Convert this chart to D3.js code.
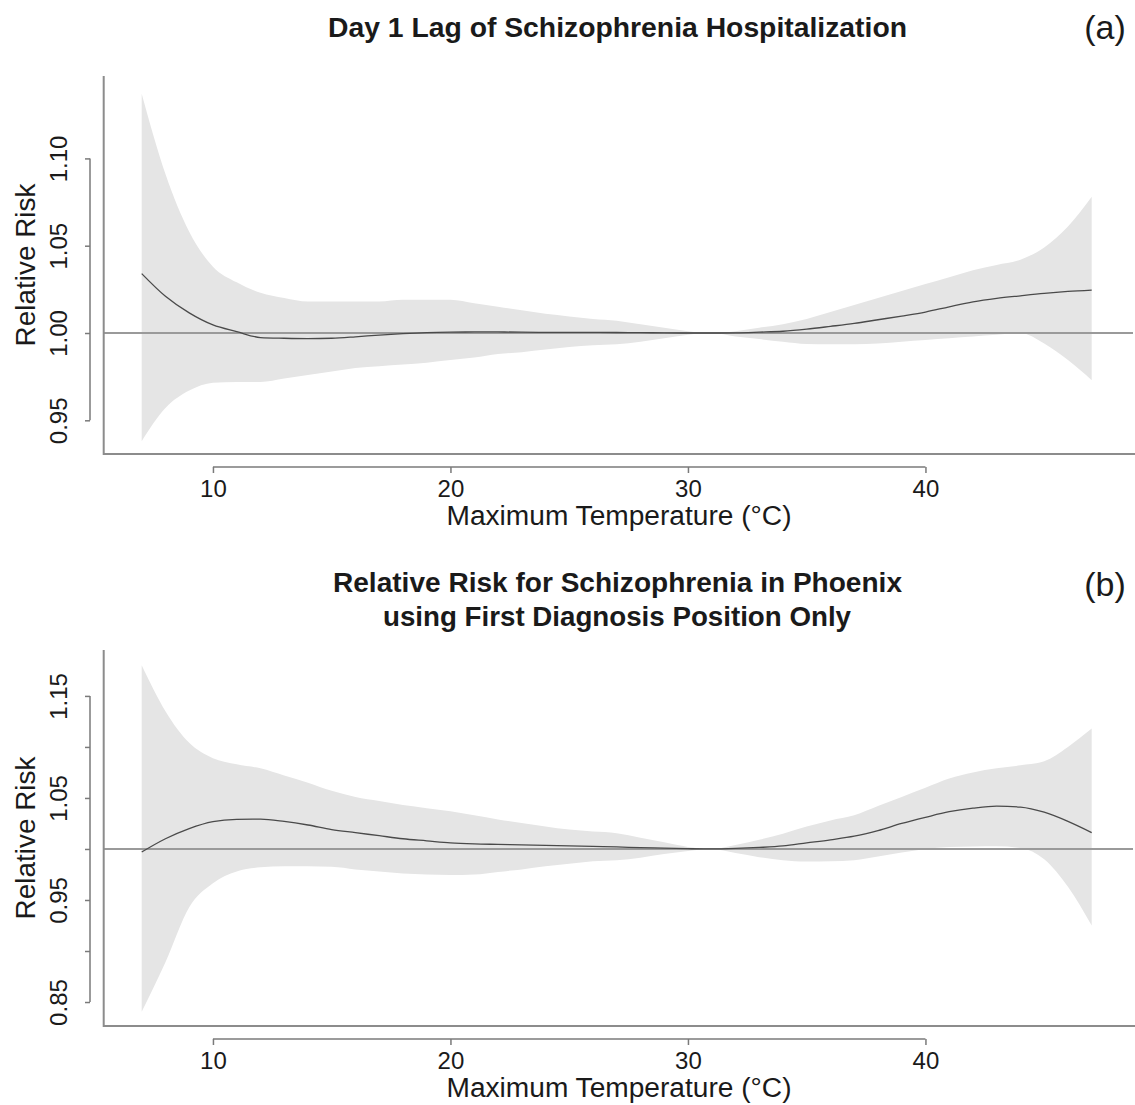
<!DOCTYPE html>
<html>
<head>
<meta charset="utf-8">
<script src="https://cdn.jsdelivr.net/npm/d3@7"></script>
<style>
  html, body { margin: 0; padding: 0; background: #fff; }
  svg { display: block; }
  text { font-family: "Liberation Sans", Arial, Helvetica, sans-serif; fill: #1a1a1a; }
</style>
</head>
<body>
<script>
// Maximum temperature grid (°C)
const temps = [7, 8, 9, 10, 11, 12, 13, 14, 15, 16, 17, 18, 19, 20, 21, 22, 23, 24, 25, 26, 27,
               28, 29, 30, 31, 32, 33, 34, 35, 36, 37, 38, 39, 40, 41, 42, 43, 44, 45, 46, 47];

// (a) Day 1 lag: relative risk and 95% confidence limits
const fitA  = [1.034, 1.021, 1.0115, 1.0046, 1.0008, 0.9974, 0.997, 0.9968, 0.997, 0.9978, 0.9988,
               0.9996, 1.0002, 1.0005, 1.0006, 1.0006, 1.0005, 1.0004, 1.0004, 1.0004, 1.0003,
               1.0002, 1.0001, 1.0, 1.0, 1.0001, 1.0005, 1.001, 1.0022, 1.0038, 1.0055, 1.0076,
               1.0097, 1.012, 1.015, 1.0178, 1.0198, 1.0213, 1.0227, 1.0238, 1.0246];
const lowA  = [0.938, 0.957, 0.967, 0.9715, 0.972, 0.972, 0.974, 0.976, 0.978, 0.980, 0.981,
               0.982, 0.983, 0.9845, 0.986, 0.988, 0.989, 0.9905, 0.992, 0.993, 0.9935,
               0.995, 0.997, 0.999, 1.000, 0.998, 0.9965, 0.995, 0.9937, 0.9935, 0.9935, 0.994,
               0.995, 0.996, 0.997, 0.998, 0.999, 1.000, 0.994, 0.9845, 0.973];
const highA = [1.137, 1.091, 1.058, 1.038, 1.029, 1.023, 1.020, 1.018, 1.018, 1.018, 1.018,
               1.019, 1.019, 1.019, 1.017, 1.015, 1.013, 1.011, 1.0095, 1.008, 1.007,
               1.005, 1.003, 1.001, 1.000, 1.001, 1.003, 1.005, 1.008, 1.012, 1.016, 1.020,
               1.024, 1.028, 1.032, 1.036, 1.039, 1.042, 1.049, 1.061, 1.078];

// (b) First diagnosis position only: relative risk and 95% confidence limits
const fitB  = [0.997, 1.010, 1.020, 1.0268, 1.029, 1.0292, 1.027, 1.0235, 1.019, 1.016, 1.013,
               1.010, 1.008, 1.006, 1.005, 1.0045, 1.004, 1.0035, 1.003, 1.0025, 1.002,
               1.0013, 1.0008, 1.0003, 1.000, 1.0005, 1.0015, 1.003, 1.006, 1.009, 1.0125, 1.018,
               1.025, 1.031, 1.0365, 1.040, 1.042, 1.041, 1.036, 1.027, 1.016];
const lowB  = [0.8405, 0.889, 0.943, 0.9665, 0.978, 0.982, 0.983, 0.983, 0.9825, 0.980, 0.978,
               0.976, 0.975, 0.9745, 0.975, 0.9775, 0.980, 0.983, 0.9855, 0.988, 0.989,
               0.9915, 0.995, 0.998, 1.000, 0.996, 0.992, 0.989, 0.9876, 0.988, 0.989, 0.9925,
               0.9965, 1.000, 1.002, 1.0025, 1.0026, 1.001, 0.990, 0.963, 0.925];
const highB = [1.180, 1.135, 1.104, 1.089, 1.083, 1.079, 1.072, 1.065, 1.057, 1.051, 1.047,
               1.043, 1.040, 1.037, 1.033, 1.029, 1.0255, 1.022, 1.019, 1.017, 1.0155,
               1.011, 1.0065, 1.002, 1.000, 1.004, 1.009, 1.015, 1.022, 1.028, 1.033, 1.042,
               1.051, 1.060, 1.069, 1.075, 1.079, 1.082, 1.086, 1.100, 1.118];

// Axis ticks and labels
const xTicks = [10, 20, 30, 40];
const yTicksA = [0.95, 1.00, 1.05, 1.10];
const yLabelsA = ["0.95", "1.00", "1.05", "1.10"];
const yTicksB = [0.85, 0.90, 0.95, 1.00, 1.05, 1.10, 1.15];
const yLabelsB = ["0.85", "", "0.95", "", "1.05", "", "1.15"];

const titleA = ["Day 1 Lag of Schizophrenia Hospitalization"];
const titleB = ["Relative Risk for Schizophrenia in Phoenix", "using First Diagnosis Position Only"];
const xTitle = "Maximum Temperature (\u00B0C)";
const yTitle = "Relative Risk";

const W = 1135, H = 1105;
const svg = d3.select("body").append("svg").attr("width", W).attr("height", H);

// x limits padded 4% beyond the data range
const x = d3.scaleLinear().domain([5.4, 48.6]).range([103.7, 1129.7]);

function drawPanel(cfg) {
  const g = svg.append("g");
  const y = d3.scaleLinear().domain(cfg.yDomain).range([cfg.bottom, cfg.top]);
  const rows = temps.map((t, i) => ({ t, fit: cfg.fit[i], lo: cfg.low[i], hi: cfg.high[i] }));

  // confidence band
  g.append("path")
    .datum(rows)
    .attr("fill", "#e5e5e5")
    .attr("d", d3.area().x(d => x(d.t)).y0(d => y(d.lo)).y1(d => y(d.hi)).curve(d3.curveMonotoneX));

  // reference line RR = 1
  g.append("line")
    .attr("x1", x.range()[0]).attr("x2", 1133)
    .attr("y1", y(1)).attr("y2", y(1))
    .attr("stroke", "#9a9a9a").attr("stroke-width", 2);

  // estimated relative risk
  g.append("path")
    .datum(rows)
    .attr("fill", "none")
    .attr("stroke", "#4a4a4a").attr("stroke-width", 1.3)
    .attr("d", d3.line().x(d => x(d.t)).y(d => y(d.fit)).curve(d3.curveMonotoneX));

  // L-shaped frame
  g.append("path")
    .attr("fill", "none").attr("stroke", "#8c8c8c").attr("stroke-width", 2)
    .attr("d", `M${x.range()[0]},${cfg.top}V${cfg.bottom}H1135`);

  // x axis, offset below the frame
  const xa = g.append("g")
    .attr("transform", `translate(0,${cfg.bottom + 13})`)
    .call(d3.axisBottom(x).tickValues(xTicks).tickFormat(d3.format("d")).tickSize(6).tickPadding(7));
  xa.select(".domain").remove();
  xa.append("line")
    .attr("x1", x(xTicks[0])).attr("x2", x(xTicks[xTicks.length - 1]))
    .attr("stroke", "#7a7a7a").attr("stroke-width", 1.5);
  xa.selectAll(".tick line").attr("stroke", "#7a7a7a").attr("stroke-width", 1.5);
  xa.selectAll(".tick text").attr("font-size", 24).attr("fill", "#1a1a1a")
    .style("font-family", '"Liberation Sans", Arial, sans-serif');

  // y axis, offset left of the frame
  const ya = g.append("g")
    .attr("transform", "translate(90,0)")
    .call(d3.axisLeft(y).tickValues(cfg.yTicks).tickFormat((d, i) => cfg.yLabels[i]).tickSize(5));
  ya.select(".domain").remove();
  ya.append("line")
    .attr("y1", y(cfg.yTicks[0])).attr("y2", y(cfg.yTicks[cfg.yTicks.length - 1]))
    .attr("stroke", "#7a7a7a").attr("stroke-width", 1.5);
  ya.selectAll(".tick line").attr("stroke", "#7a7a7a").attr("stroke-width", 1.5);
  ya.selectAll(".tick text")
    .attr("x", 0).attr("y", -23).attr("dy", 0)
    .attr("text-anchor", "middle")
    .attr("transform", "rotate(-90)")
    .attr("font-size", 24).attr("fill", "#1a1a1a")
    .style("font-family", '"Liberation Sans", Arial, sans-serif');

  // axis titles
  g.append("text")
    .attr("x", 619).attr("y", cfg.bottom + 71)
    .attr("text-anchor", "middle").attr("font-size", 27)
    .attr("textLength", 345).attr("lengthAdjust", "spacingAndGlyphs")
    .text(xTitle);
  g.append("text")
    .attr("transform", `translate(35,${(cfg.top + cfg.bottom) / 2}) rotate(-90)`)
    .attr("text-anchor", "middle").attr("font-size", 27)
    .attr("textLength", 163).attr("lengthAdjust", "spacingAndGlyphs")
    .text(yTitle);

  // panel title and tag
  cfg.title.forEach((t, i) => {
    g.append("text")
      .attr("x", cfg.titleX[i]).attr("y", cfg.titleY[i])
      .attr("text-anchor", "middle").attr("font-size", 27).attr("font-weight", "bold")
      .attr("textLength", cfg.titleW[i]).attr("lengthAdjust", "spacingAndGlyphs")
      .text(t);
  });
  g.append("text")
    .attr("x", 1105).attr("y", cfg.tagY)
    .attr("text-anchor", "middle").attr("font-size", 34)
    .text(cfg.tag);
}

drawPanel({
  fit: fitA, low: lowA, high: highA,
  yDomain: [0.9307, 1.1472], top: 76, bottom: 454,
  yTicks: yTicksA, yLabels: yLabelsA,
  title: titleA, titleX: [617.5], titleY: [37], titleW: [579],
  tag: "(a)", tagY: 39
});

drawPanel({
  fit: fitB, low: lowB, high: highB,
  yDomain: [0.8265, 1.195], top: 650, bottom: 1026,
  yTicks: yTicksB, yLabels: yLabelsB,
  title: titleB, titleX: [617.5, 617], titleY: [592, 626], titleW: [569, 468],
  tag: "(b)", tagY: 596
});
</script>
</body>
</html>
